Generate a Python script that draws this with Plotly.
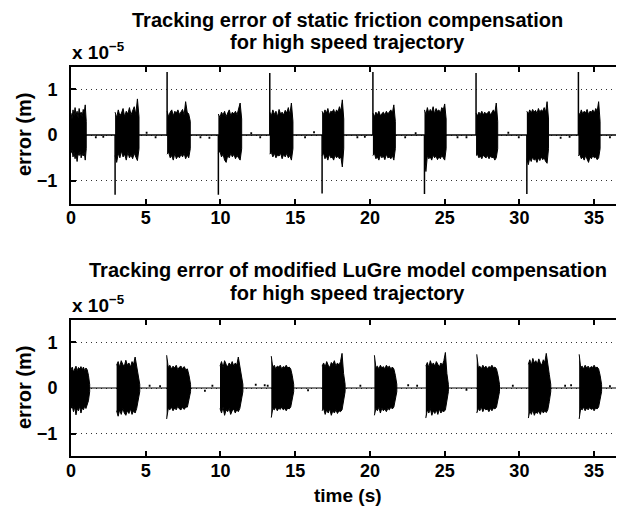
import numpy as np
import plotly.graph_objects as go

# ---------------- data (error values in units of 1e-5 m, time in s) ----------------
top_title = ["Tracking error of static friction compensation", "for high speed trajectory"]
bot_title = ["Tracking error of modified LuGre model compensation", "for high speed trajectory"]
x_ticks = [0, 5, 10, 15, 20, 25, 30, 35]
y_ticks = [-1, 0, 1]
y_tick_labels = ["\u22121", "0", "1"]

# static friction compensation: oscillation bursts
top_start = [0.00, 2.95, 6.43, 9.86, 13.30, 16.80, 20.20, 23.65, 27.10, 30.50, 33.95]
top_end = [1.02, 4.55, 7.98, 11.42, 14.85, 18.25, 21.70, 25.10, 28.55, 31.95, 35.40]
top_upper = [
    [0.48, 0.35, 0.55, 0.42, 0.60, 0.44, 0.52, 0.38, 0.58, 0.45, 0.50, 0.40, 0.56, 0.48, 0.66, 0.30],
    [0.50, 0.38, 0.55, 0.42, 0.48, 0.58, 0.40, 0.52, 0.46, 0.60, 0.44, 0.55, 0.62, 0.45, 0.79, 0.40],
    [0.52, 0.40, 0.50, 0.55, 0.42, 0.52, 0.48, 0.55, 0.45, 0.50, 0.56, 0.44, 0.73, 0.50, 0.46, 0.30],
    [0.46, 0.38, 0.50, 0.44, 0.52, 0.40, 0.48, 0.55, 0.42, 0.50, 0.46, 0.52, 0.44, 0.58, 0.70, 0.35],
    [0.50, 0.42, 0.55, 0.45, 0.52, 0.40, 0.56, 0.46, 0.50, 0.44, 0.54, 0.48, 0.60, 0.45, 0.70, 0.30],
    [0.52, 0.45, 0.55, 0.48, 0.58, 0.44, 0.52, 0.50, 0.56, 0.46, 0.55, 0.50, 0.62, 0.52, 0.77, 0.35],
    [0.48, 0.40, 0.50, 0.44, 0.52, 0.42, 0.47, 0.50, 0.44, 0.52, 0.46, 0.50, 0.55, 0.48, 0.66, 0.30],
    [0.55, 0.45, 0.60, 0.48, 0.56, 0.50, 0.62, 0.46, 0.58, 0.52, 0.55, 0.48, 0.60, 0.55, 0.68, 0.35],
    [0.48, 0.42, 0.50, 0.45, 0.52, 0.44, 0.50, 0.46, 0.48, 0.52, 0.44, 0.50, 0.55, 0.48, 0.70, 0.30],
    [0.52, 0.46, 0.55, 0.48, 0.56, 0.50, 0.54, 0.47, 0.58, 0.50, 0.55, 0.52, 0.60, 0.50, 0.73, 0.35],
    [0.50, 0.44, 0.55, 0.46, 0.52, 0.48, 0.56, 0.45, 0.52, 0.50, 0.55, 0.48, 0.58, 0.52, 0.73, 0.30],
]
top_lower = [
    [-0.40, -0.32, -0.48, -0.38, -0.52, -0.42, -0.58, -0.40, -0.45, -0.35, -0.50, -0.40, -0.46, -0.38, -0.55, -0.30],
    [-0.45, -0.60, -0.40, -0.50, -0.35, -0.48, -0.42, -0.55, -0.38, -0.50, -0.44, -0.52, -0.40, -0.48, -0.56, -0.30],
    [-0.42, -0.38, -0.50, -0.45, -0.55, -0.40, -0.52, -0.46, -0.50, -0.42, -0.48, -0.40, -0.52, -0.44, -0.50, -0.30],
    [-0.40, -0.35, -0.48, -0.42, -0.55, -0.60, -0.45, -0.50, -0.40, -0.48, -0.42, -0.52, -0.45, -0.50, -0.55, -0.30],
    [-0.42, -0.38, -0.48, -0.40, -0.50, -0.44, -0.46, -0.40, -0.52, -0.42, -0.48, -0.40, -0.50, -0.45, -0.55, -0.30],
    [-0.45, -0.40, -0.52, -0.46, -0.55, -0.42, -0.50, -0.48, -0.55, -0.44, -0.50, -0.46, -0.52, -0.48, -0.70, -0.30],
    [-0.45, -0.40, -0.52, -0.48, -0.55, -0.44, -0.50, -0.46, -0.54, -0.42, -0.50, -0.48, -0.52, -0.45, -0.55, -0.30],
    [-0.55, -0.80, -0.45, -0.52, -0.48, -0.55, -0.44, -0.50, -0.46, -0.54, -0.48, -0.52, -0.45, -0.50, -0.55, -0.30],
    [-0.45, -0.42, -0.50, -0.46, -0.52, -0.44, -0.48, -0.50, -0.45, -0.52, -0.46, -0.50, -0.48, -0.55, -0.50, -0.30],
    [-0.52, -0.65, -0.50, -0.58, -0.48, -0.55, -0.52, -0.60, -0.50, -0.56, -0.48, -0.54, -0.50, -0.58, -0.62, -0.30],
    [-0.46, -0.42, -0.52, -0.48, -0.55, -0.45, -0.50, -0.60, -0.48, -0.52, -0.45, -0.50, -0.48, -0.54, -0.50, -0.30],
]
top_spike_t = [2.95, 6.43, 9.86, 13.30, 16.80, 20.20, 23.65, 27.10, 30.50, 33.95]
top_spike_v = [-1.31, 1.38, -1.31, 1.36, -1.28, 1.38, -1.29, 1.36, -1.29, 1.38]
top_blip_t = [1.6, 2.1, 5.0, 5.6, 8.6, 9.2, 12.0, 12.6, 15.6, 16.2, 19.1, 19.6, 22.3, 23.0, 25.8, 26.4, 29.2, 29.9, 32.7, 33.3, 36.0, 36.6]
top_blip_v = [-0.05, -0.04, 0.05, -0.05, -0.05, -0.06, 0.04, -0.05, -0.05, 0.06, -0.05, -0.04, -0.05, 0.04, -0.05, -0.05, 0.05, -0.05, -0.06, -0.04, -0.05, -0.05]

# modified LuGre model compensation: oscillation bursts
bot_start = [0.00, 3.05, 6.40, 9.97, 13.40, 16.80, 20.30, 23.74, 27.15, 30.60, 34.00]
bot_end = [1.25, 4.60, 8.00, 11.50, 14.90, 18.34, 21.80, 25.25, 28.67, 32.10, 35.50]
bot_upper = [
    [0.40, 0.46, 0.35, 0.44, 0.48, 0.38, 0.45, 0.42, 0.47, 0.40, 0.46, 0.38, 0.44, 0.40, 0.28, 0.08],
    [0.50, 0.58, 0.46, 0.60, 0.52, 0.48, 0.61, 0.50, 0.55, 0.46, 0.58, 0.52, 0.68, 0.45, 0.30, 0.08],
    [0.72, 0.45, 0.50, 0.42, 0.48, 0.44, 0.50, 0.40, 0.46, 0.48, 0.42, 0.47, 0.40, 0.42, 0.28, 0.08],
    [0.48, 0.58, 0.45, 0.60, 0.52, 0.46, 0.55, 0.50, 0.58, 0.48, 0.55, 0.50, 0.68, 0.45, 0.30, 0.08],
    [0.70, 0.45, 0.50, 0.42, 0.48, 0.46, 0.50, 0.42, 0.47, 0.45, 0.50, 0.44, 0.46, 0.42, 0.28, 0.08],
    [0.48, 0.55, 0.46, 0.58, 0.50, 0.45, 0.56, 0.52, 0.60, 0.48, 0.55, 0.50, 0.58, 0.76, 0.32, 0.08],
    [0.72, 0.45, 0.48, 0.42, 0.50, 0.44, 0.47, 0.42, 0.50, 0.45, 0.48, 0.42, 0.46, 0.42, 0.28, 0.08],
    [0.48, 0.56, 0.45, 0.60, 0.50, 0.55, 0.48, 0.58, 0.52, 0.46, 0.55, 0.50, 0.60, 0.78, 0.32, 0.08],
    [0.74, 0.45, 0.48, 0.42, 0.50, 0.44, 0.48, 0.42, 0.47, 0.45, 0.50, 0.44, 0.46, 0.42, 0.28, 0.08],
    [0.52, 0.62, 0.50, 0.65, 0.55, 0.60, 0.52, 0.64, 0.55, 0.50, 0.62, 0.56, 0.76, 0.48, 0.30, 0.08],
    [0.74, 0.45, 0.48, 0.42, 0.50, 0.44, 0.48, 0.43, 0.47, 0.45, 0.50, 0.44, 0.46, 0.42, 0.28, 0.08],
]
bot_lower = [
    [-0.45, -0.40, -0.52, -0.42, -0.59, -0.45, -0.50, -0.40, -0.55, -0.44, -0.48, -0.40, -0.45, -0.40, -0.28, -0.08],
    [-0.50, -0.62, -0.48, -0.58, -0.45, -0.55, -0.60, -0.50, -0.56, -0.46, -0.58, -0.50, -0.55, -0.45, -0.30, -0.08],
    [-0.68, -0.45, -0.48, -0.42, -0.50, -0.44, -0.48, -0.40, -0.46, -0.48, -0.42, -0.47, -0.42, -0.42, -0.28, -0.08],
    [-0.45, -0.55, -0.42, -0.60, -0.48, -0.52, -0.45, -0.58, -0.50, -0.46, -0.55, -0.48, -0.52, -0.45, -0.30, -0.08],
    [-0.65, -0.45, -0.48, -0.42, -0.50, -0.44, -0.47, -0.42, -0.48, -0.45, -0.50, -0.44, -0.46, -0.42, -0.28, -0.08],
    [-0.50, -0.45, -0.58, -0.48, -0.55, -0.46, -0.60, -0.50, -0.55, -0.48, -0.56, -0.50, -0.52, -0.48, -0.32, -0.08],
    [-0.60, -0.45, -0.50, -0.42, -0.55, -0.44, -0.50, -0.46, -0.52, -0.45, -0.48, -0.42, -0.46, -0.42, -0.28, -0.08],
    [-0.66, -0.48, -0.55, -0.45, -0.60, -0.50, -0.56, -0.48, -0.58, -0.46, -0.55, -0.50, -0.52, -0.48, -0.32, -0.08],
    [-0.55, -0.45, -0.50, -0.42, -0.52, -0.44, -0.48, -0.46, -0.52, -0.45, -0.50, -0.44, -0.46, -0.42, -0.28, -0.08],
    [-0.66, -0.50, -0.58, -0.48, -0.60, -0.52, -0.56, -0.50, -0.58, -0.48, -0.55, -0.50, -0.54, -0.48, -0.30, -0.08],
    [-0.68, -0.45, -0.48, -0.42, -0.50, -0.44, -0.48, -0.43, -0.47, -0.45, -0.50, -0.44, -0.46, -0.42, -0.28, -0.08],
]
bot_blip_t = [5.2, 5.9, 8.9, 9.4, 12.3, 12.9, 13.1, 15.8, 19.3, 22.5, 23.1, 26.4, 29.5, 33.0, 33.4, 36.0]
bot_blip_v = [0.05, 0.04, -0.06, 0.05, 0.07, 0.06, 0.05, -0.05, 0.05, 0.06, 0.05, -0.04, 0.05, 0.05, 0.06, 0.04]

x_limit = [0, 37]
y_range = [-1.5, 1.5]

# ---------------- figure ----------------
# the page body has an 8 px default margin on every side; size the figure so it fits
# inside the 624x519 window without overflow and place everything relative to that offset
OFF = 8
W, H = 624 - 2 * OFF, 519 - 2 * OFF
FONT = "Liberation Sans"
PLOT_L, PLOT_R_FULL = 71, 624          # reference axes span (x=0 .. x=37)
PLOT_R = OFF + W                       # visible right edge of the figure
x_view = [x_limit[0], x_limit[1] * (PLOT_R - PLOT_L) / (PLOT_R_FULL - PLOT_L)]

fig = go.Figure()


def px_x(p):
    return (p - OFF) / W


def px_y(p):
    return 1 - (p - OFF) / H


def add_panel(starts, ends, uppers, lowers, blip_t, blip_v, spike_t, spike_v, xa, ya, base_w):
    fig.add_trace(go.Scatter(x=x_limit, y=[0, 0], mode="lines",
                             line=dict(color="black", width=base_w),
                             xaxis=xa, yaxis=ya, showlegend=False, hoverinfo="skip"))
    bx, by = [], []
    for t, v in zip(blip_t, blip_v):
        bx += [t, t + 0.12, None]
        by += [v, v, None]
    fig.add_trace(go.Scatter(x=bx, y=by, mode="lines", line=dict(color="black", width=2),
                             xaxis=xa, yaxis=ya, showlegend=False, hoverinfo="skip"))
    for s, e, up, lo in zip(starts, ends, uppers, lowers):
        xs = np.linspace(s, e, len(up))
        px = np.concatenate([xs, xs[::-1]])
        py = np.concatenate([np.array(up), np.array(lo)[::-1]])
        fig.add_trace(go.Scatter(x=px, y=py, mode="lines", fill="toself",
                                 fillcolor="black", line=dict(color="black", width=1),
                                 xaxis=xa, yaxis=ya, showlegend=False, hoverinfo="skip"))
    if spike_t:
        sx, sy = [], []
        for t, v in zip(spike_t, spike_v):
            sx += [t, t, None]
            sy += [0, v, None]
        fig.add_trace(go.Scatter(x=sx, y=sy, mode="lines", line=dict(color="black", width=1.5),
                                 xaxis=xa, yaxis=ya, showlegend=False, hoverinfo="skip"))


add_panel(top_start, top_end, top_upper, top_lower, top_blip_t, top_blip_v,
          top_spike_t, top_spike_v, "x", "y", 1.5)
add_panel(bot_start, bot_end, bot_upper, bot_lower, bot_blip_t, bot_blip_v,
          [], [], "x2", "y2", 1.2)

top_dom = [px_y(203.5), px_y(66.5)]
bot_dom = [px_y(456.3), px_y(319.7)]

tickfont = dict(family=FONT, size=18, color="black", weight="bold")
xcommon = dict(range=x_view, tickvals=x_ticks, ticks="inside", ticklen=5, tickwidth=1.5,
               tickcolor="black", showline=True, linecolor="black", linewidth=2,
               mirror="ticks", showgrid=False, zeroline=False, tickfont=tickfont,
               ticklabelstandoff=-3, domain=[px_x(PLOT_L), 1], automargin=False)
ycommon = dict(range=y_range, tickvals=y_ticks, ticktext=y_tick_labels, ticks="inside",
               ticklen=5, tickwidth=1.5, tickcolor="black", showline=True, linecolor="black",
               linewidth=2, mirror=False, showgrid=True, gridcolor="#333333",
               griddash="1px,4px", gridwidth=1, zeroline=False, tickfont=tickfont,
               ticklabelstandoff=8, automargin=False)

fig.update_layout(
    width=W, height=H, margin=dict(l=0, r=0, t=0, b=0, autoexpand=False),
    paper_bgcolor="white", plot_bgcolor="white",
    xaxis=dict(**xcommon, anchor="y"),
    yaxis=dict(**ycommon, domain=top_dom, anchor="x"),
    xaxis2=dict(**xcommon, anchor="y2"),
    yaxis2=dict(**ycommon, domain=bot_dom, anchor="x2"),
)

lab = dict(family=FONT, size=19, color="black", weight="bold")
elab = dict(family=FONT, size=20, color="black", weight="bold")
ttl = dict(family=FONT, size=20, color="black", weight="bold")
cx = px_x((PLOT_L + PLOT_R_FULL) / 2)
ann = [
    dict(text=top_title[0], x=cx, y=1, font=ttl, yanchor="top", borderpad=0),
    dict(text=top_title[1], x=cx, y=px_y(42), font=ttl),
    dict(text=bot_title[0], x=cx, y=px_y(270), font=ttl),
    dict(text=bot_title[1], x=cx, y=px_y(293), font=ttl),
    dict(text="error (m)", x=px_x(24), y=px_y(135), font=elab, textangle=-90),
    dict(text="error (m)", x=px_x(24), y=px_y(388), font=elab, textangle=-90),
    dict(text="x 10<sup>\u22125</sup>", x=px_x(70), y=px_y(51), font=lab, xanchor="left"),
    dict(text="x 10<sup>\u22125</sup>", x=px_x(70), y=px_y(304), font=lab, xanchor="left"),
    dict(text="time (s)", x=cx, y=px_y(495), font=lab),
]
for a in ann:
    a.setdefault("xanchor", "center")
    a.setdefault("yanchor", "middle")
    fig.add_annotation(xref="paper", yref="paper", showarrow=False, **a)

fig.write_html("out.html")
